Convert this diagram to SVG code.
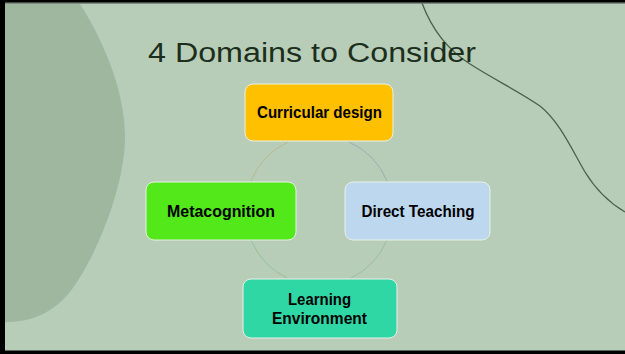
<svg xmlns="http://www.w3.org/2000/svg" width="625" height="354" viewBox="0 0 625 354">
<style>
.box{stroke:#e9f1e6;stroke-width:1}
.lbl{font-family:"Liberation Sans",Arial,sans-serif;font-weight:bold;font-size:16px;fill:#000;text-anchor:middle}
.arc{fill:none;stroke-width:1}
</style>
<rect x="0" y="0" width="625" height="354" fill="#b7cdb8"/>
<path d="M5,4 L80,4 C108,48 126,98 125,140 C124,188 96,258 70,292 C50,316 28,322 5,322 Z" fill="#9fb79f"/>
<path d="M422,3 C432,30 448,50 470,64 C495,80 520,92 540,106 C560,122 572,150 585,172 C596,190 608,202 625,212" fill="none" stroke="#4b6149" stroke-width="1.3"/>
<text x="148" y="62" font-family="'Liberation Sans',Arial,sans-serif" font-size="27" fill="#1c2e1c" textLength="328" lengthAdjust="spacingAndGlyphs">4 Domains to Consider</text>
<g id="connectors">
<path class="arc" d="M288,142 A74,74 0 0 0 251,181" stroke="#b8b890"/>
<path class="arc" d="M349,142 A74,74 0 0 1 387,181" stroke="#98aeb0"/>
<path class="arc" d="M251,240 A74,74 0 0 0 287,278" stroke="#98c098"/>
<path class="arc" d="M387,240 A74,74 0 0 1 351,278" stroke="#98c0a0"/>
</g>
<g id="curricular">
<rect class="box" x="245" y="84" width="148" height="57" rx="8" fill="#ffc000"/>
<text class="lbl" x="319.5" y="118" textLength="125" lengthAdjust="spacingAndGlyphs">Curricular design</text>
</g>
<g id="metacognition">
<rect class="box" x="146" y="182" width="150" height="58" rx="8" fill="#52e81a"/>
<text class="lbl" x="221" y="217" textLength="108" lengthAdjust="spacingAndGlyphs">Metacognition</text>
</g>
<g id="direct">
<rect class="box" x="345" y="182" width="145" height="58" rx="8" fill="#bdd7ee"/>
<text class="lbl" x="418" y="217" textLength="113" lengthAdjust="spacingAndGlyphs">Direct Teaching</text>
</g>
<g id="learning">
<rect class="box" x="243" y="279" width="154" height="59" rx="8" fill="#2fd7a5"/>
<text class="lbl" x="319.5" y="305" textLength="63" lengthAdjust="spacingAndGlyphs">Learning</text>
<text class="lbl" x="319.5" y="324" textLength="95" lengthAdjust="spacingAndGlyphs">Environment</text>
</g>
<rect x="0" y="0" width="625" height="2.7" fill="#000"/>
<rect x="0" y="2.7" width="625" height="1" fill="#6a6a6a"/>
<rect x="0" y="0" width="5" height="354" fill="#000"/>
<rect x="0" y="350.5" width="625" height="3.5" fill="#000"/>
</svg>
